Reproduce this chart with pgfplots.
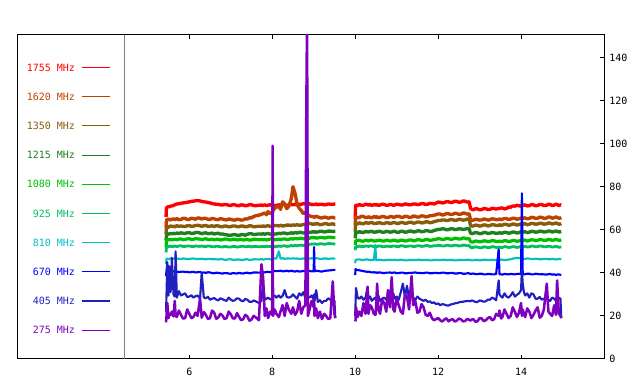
\documentclass[border=0pt]{standalone}
\usepackage{fontspec}
\setmainfont{DejaVu Sans Mono}
\usepackage{pgfplots}
\usepackage{pgfplotstable}
\pgfplotsset{compat=1.18}
\definecolor{cA}{RGB}{255,0,0}
\definecolor{cB}{RGB}{192,64,0}
\definecolor{cC}{RGB}{136,92,8}
\definecolor{cD}{RGB}{32,128,32}
\definecolor{cE}{RGB}{0,192,0}
\definecolor{cF}{RGB}{0,192,96}
\definecolor{cG}{RGB}{0,192,192}
\definecolor{cH}{RGB}{0,0,255}
\definecolor{cI}{RGB}{32,32,192}
\definecolor{cJ}{RGB}{128,0,192}
\pgfplotstableread{
t a b c d e f g h i j
5.44 66.0 61.0 58.0 55.0 52.0 49.5 44.0 38.5 22.0 17.0
5.45 70.2 64.5 61.0 57.5 55.0 52.0 46.5 41.0 29.0 19.5
5.47 70.5 64.8 61.3 57.8 55.2 52.3 46.6 44.0 45.0 26.0
5.50 70.8 65.0 61.2 58.0 55.4 52.1 46.4 40.8 29.5 19.0
5.52 70.6 64.7 61.5 58.2 55.3 52.3 46.5 40.7 43.0 21.0
5.55 71.0 64.6 61.8 58.3 55.6 52.4 46.7 40.6 31.0 20.5
5.58 71.1 64.9 61.5 58.1 55.3 52.2 46.5 40.9 47.0 22.0
5.62 71.3 65.1 61.7 58.4 55.5 52.3 46.6 40.7 30.0 19.8
5.65 71.6 64.7 61.4 58.2 55.7 52.5 46.8 40.5 29.0 27.0
5.67 71.8 64.9 61.6 58.3 55.5 52.4 46.6 40.7 50.0 20.0
5.70 72.0 65.2 61.9 58.5 55.4 52.2 46.5 40.6 28.5 19.5
5.75 72.1 64.7 61.6 58.3 55.7 52.5 46.6 40.4 31.5 22.5
5.80 72.3 64.8 61.8 58.6 55.8 52.6 46.4 40.5 29.5 20.5
5.85 72.5 65.4 61.6 58.4 55.4 52.3 46.7 40.6 30.0 18.8
5.90 72.6 65.3 61.5 58.3 55.5 52.3 46.6 40.4 30.5 19.0
5.95 72.8 64.8 61.9 58.6 55.8 52.5 46.4 40.5 28.8 23.0
6.00 73.0 64.9 62.0 58.7 55.9 52.5 46.5 40.2 29.0 21.0
6.05 73.2 65.4 61.6 58.3 55.5 52.3 46.6 40.4 29.6 19.0
6.10 73.3 65.2 61.7 58.4 55.6 52.2 46.7 40.5 28.5 19.5
6.15 73.5 64.9 62.0 58.7 55.9 52.5 46.5 40.2 29.2 21.5
6.20 73.6 65.5 62.1 58.8 55.8 52.4 46.4 40.3 29.5 20.0
6.26 73.4 65.4 61.9 58.5 55.7 52.3 46.5 40.4 28.0 28.0
6.30 73.2 65.0 61.6 58.2 55.4 52.5 46.6 40.1 40.0 19.2
6.35 73.0 65.4 61.9 58.5 55.7 52.3 46.4 40.2 28.6 21.8
6.40 72.9 65.3 62.0 58.6 55.9 52.2 46.3 40.0 28.2 20.5
6.45 72.7 64.9 61.6 58.2 55.5 52.5 46.5 40.3 28.9 18.6
6.50 72.5 64.8 61.7 58.3 55.5 52.4 46.5 40.2 27.5 19.0
6.55 72.2 65.3 61.9 58.5 55.7 52.2 46.3 39.9 28.0 22.5
6.60 72.0 65.1 61.5 58.0 55.3 52.1 46.4 39.8 28.3 21.5
6.65 71.9 64.8 61.9 58.3 55.6 52.4 46.3 40.1 27.6 18.7
6.70 71.8 64.7 61.8 58.4 55.6 52.3 46.2 40.0 27.2 19.3
6.75 71.6 65.2 61.5 58.0 55.3 52.1 46.4 39.8 28.2 21.0
6.80 71.5 65.0 61.4 58.1 55.4 52.0 46.3 39.7 27.8 20.2
6.85 71.8 64.7 61.8 57.8 55.7 52.3 46.1 39.9 27.3 18.6
6.90 71.7 64.6 61.7 57.7 55.7 52.2 46.1 39.9 27.0 19.0
6.95 71.4 65.0 61.4 57.5 55.4 52.0 46.3 39.7 28.5 22.0
7.00 71.3 64.9 61.5 57.5 55.3 52.0 46.3 39.6 27.6 20.8
7.05 71.7 64.6 61.8 57.7 55.6 52.3 46.1 39.9 27.0 18.9
7.10 71.6 64.5 61.8 57.8 55.6 52.3 46.0 39.8 27.3 18.8
7.15 71.3 64.9 61.5 57.5 55.3 52.0 46.2 39.7 28.2 21.3
7.20 71.2 64.8 61.4 57.4 55.4 52.1 46.2 40.0 28.0 19.6
7.25 71.6 64.5 61.8 57.8 55.6 52.3 46.0 39.8 27.1 18.0
7.30 71.5 64.6 61.7 57.7 55.2 52.4 46.0 39.7 26.8 18.5
7.35 71.2 65.1 61.4 57.5 55.5 52.1 46.3 40.0 27.9 20.5
7.40 71.3 65.0 61.5 57.9 55.5 52.2 46.3 40.1 27.5 19.8
7.45 71.7 65.6 61.9 58.2 55.2 52.4 46.0 39.8 26.6 17.8
7.50 71.6 65.5 61.8 58.2 55.3 52.0 46.1 39.9 26.5 18.3
7.55 71.3 66.2 61.4 57.8 55.6 52.3 46.3 40.2 27.2 20.0
7.60 71.2 66.5 61.5 57.9 55.6 52.3 46.3 40.2 26.8 19.4
7.68 71.4 66.8 61.7 58.1 55.4 52.1 46.2 40.1 26.0 18.0
7.74 71.5 67.2 61.6 58.0 55.5 52.2 46.4 40.3 27.0 44.0
7.78 71.3 67.5 61.8 58.2 55.3 52.3 46.2 40.4 35.0 38.0
7.82 71.6 67.8 61.5 57.9 55.6 52.1 46.3 40.2 27.5 20.0
7.86 71.3 67.0 61.8 58.2 55.3 52.4 46.5 40.4 28.0 23.5
7.90 71.4 68.5 61.9 58.3 55.4 52.3 46.5 40.5 28.5 19.0
7.95 71.7 67.5 61.6 58.0 55.7 52.2 46.3 40.3 27.7 22.0
8.00 71.2 68.0 61.6 58.0 55.7 52.2 46.3 40.6 28.0 20.5
8.01 71.4 68.3 61.8 58.2 55.5 52.3 46.4 40.5 28.5 99.0
8.02 71.5 69.0 61.7 58.3 55.6 52.4 46.5 40.7 29.0 20.0
8.06 71.2 70.0 62.0 58.0 55.4 52.2 46.7 40.9 29.5 23.0
8.10 71.3 70.5 62.0 58.1 55.4 52.2 46.7 40.8 28.5 21.0
8.16 71.6 71.0 61.8 58.4 55.7 52.5 50.0 40.9 29.5 19.5
8.20 71.4 69.5 62.1 58.2 55.5 52.3 46.6 41.0 28.5 22.0
8.25 71.8 73.0 61.8 58.5 55.7 52.5 46.8 40.7 29.3 25.0
8.30 71.7 72.0 61.9 58.5 55.8 52.6 46.5 40.8 32.0 20.0
8.35 71.4 69.8 62.2 58.2 55.5 52.3 46.7 41.0 28.8 26.0
8.40 71.5 71.0 62.2 58.3 55.6 52.4 46.7 40.7 28.5 23.0
8.46 71.8 74.5 62.0 58.6 55.9 52.7 46.6 41.0 29.0 21.0
8.50 71.6 80.0 62.3 58.4 55.7 52.5 46.8 40.8 30.0 24.0
8.55 71.9 77.0 62.1 58.7 56.0 52.8 46.6 40.6 29.0 20.5
8.60 71.5 72.0 62.4 58.5 55.8 52.6 46.7 40.9 28.0 22.0
8.65 71.9 70.0 62.1 58.8 56.0 52.8 46.5 40.6 30.5 27.0
8.70 71.8 69.0 62.2 58.8 56.1 52.9 46.5 40.7 29.5 21.0
8.75 72.2 67.5 62.5 58.5 55.8 52.7 46.7 40.9 31.0 24.0
8.80 72.0 68.0 62.6 58.6 55.9 53.0 46.8 40.8 28.5 25.0
8.82 72.2 67.5 62.8 58.9 56.2 53.2 46.7 41.0 35.0 110.0
8.84 72.1 67.2 62.7 58.7 56.0 53.1 46.6 40.9 30.0 160.0
8.86 71.9 67.0 62.9 59.0 56.3 53.3 46.8 41.1 29.0 20.0
8.90 72.1 66.5 63.0 58.8 56.1 53.2 46.6 40.9 28.5 23.0
8.95 71.7 66.2 62.7 59.0 56.4 53.4 46.8 40.7 29.5 27.0
9.00 71.8 66.0 62.6 59.1 56.4 53.4 46.7 40.8 27.5 24.0
9.01 71.9 66.2 62.8 58.9 56.2 53.3 46.8 52.0 30.0 28.0
9.02 71.7 65.8 62.5 59.2 56.5 53.5 46.6 40.7 27.0 20.0
9.06 72.0 66.3 62.9 58.9 56.2 53.3 46.8 41.0 32.0 23.5
9.10 71.6 66.0 62.8 59.0 56.2 53.3 46.7 40.9 26.5 19.0
9.15 71.9 65.6 62.4 59.3 56.5 53.5 46.5 40.7 27.3 22.0
9.20 71.9 65.5 62.5 59.3 56.5 53.5 46.5 40.6 26.0 18.5
9.25 71.6 65.9 62.8 59.0 56.2 53.3 46.7 40.9 27.0 21.0
9.30 71.7 65.8 62.9 59.1 56.3 53.4 46.7 41.0 27.0 20.0
9.35 72.0 65.4 62.5 59.4 56.6 53.6 46.5 41.1 28.2 18.6
9.40 71.9 65.6 62.6 59.4 56.6 53.6 46.6 41.2 27.5 19.0
9.46 71.8 65.9 62.8 59.2 56.4 53.5 46.7 41.3 28.0 36.0
9.50 72.0 65.5 62.5 59.3 56.5 53.4 46.6 41.4 27.0 21.0
9.52 72.0 65.5 62.5 59.3 56.5 53.4 46.6 41.4 19.0 19.0
9.70 nan nan nan nan nan nan nan nan nan nan
10.00 65.0 62.0 59.0 56.0 53.0 50.5 44.5 39.0 20.0 17.5
10.01 71.0 65.5 62.5 58.5 54.5 52.0 46.0 41.8 26.0 18.0
10.02 71.5 66.0 63.0 59.0 54.9 52.3 46.1 41.5 33.0 24.0
10.06 71.2 65.6 62.7 58.7 55.2 52.1 46.2 41.3 28.5 19.5
10.10 71.8 65.7 63.3 59.2 55.1 52.5 46.3 41.2 28.0 22.0
10.15 71.4 66.3 62.9 58.8 54.8 52.2 46.0 41.0 29.0 20.0
10.20 71.4 66.2 62.8 58.8 54.7 52.2 46.0 40.8 27.5 26.0
10.25 71.9 65.7 63.3 59.2 55.2 52.5 46.2 40.6 28.5 21.0
10.30 71.7 65.8 63.2 59.1 55.0 52.4 46.2 40.5 33.5 33.5
10.32 71.5 66.1 63.0 58.9 54.8 52.3 46.1 40.6 28.0 21.0
10.36 71.8 65.7 63.3 59.2 55.1 52.5 46.0 40.4 29.0 25.0
10.40 71.3 65.6 63.4 59.3 55.2 52.5 45.9 40.2 27.0 24.0
10.45 71.7 66.1 63.0 58.9 54.8 52.2 46.1 40.3 28.0 21.0
10.49 71.6 66.0 62.9 58.9 54.8 52.2 53.0 40.1 28.5 20.5
10.50 71.4 65.7 63.2 59.2 55.1 52.4 46.0 40.3 27.5 22.5
10.53 71.7 66.2 63.0 59.0 54.9 52.2 45.9 40.0 28.0 35.0
10.56 71.4 65.6 63.3 59.3 55.2 52.5 46.1 40.2 29.5 23.0
10.60 71.5 65.8 63.3 59.3 55.2 52.5 46.1 40.2 27.0 21.0
10.65 71.9 66.2 62.9 58.9 54.8 52.2 45.9 40.0 28.0 27.5
10.70 71.8 66.1 62.9 58.9 54.8 52.1 45.8 39.9 28.5 26.0
10.75 71.4 65.7 63.3 59.3 55.2 52.4 46.0 40.1 27.5 22.0
10.79 71.4 65.7 63.3 59.2 55.1 52.4 46.0 40.1 30.0 32.0
10.84 71.8 66.1 62.9 58.9 54.8 52.2 46.1 40.2 28.0 24.0
10.88 71.7 66.2 63.1 59.0 54.9 52.3 45.9 40.0 27.5 38.0
10.92 71.4 65.8 63.4 59.3 55.2 52.5 46.0 40.1 30.5 23.0
10.95 71.5 65.9 63.4 59.3 55.2 52.5 46.1 40.2 28.0 22.0
11.00 71.9 66.3 63.0 58.9 54.8 52.2 45.9 39.9 29.0 28.0
11.05 71.8 66.3 63.0 58.9 54.8 52.2 45.9 39.9 27.5 25.0
11.10 71.5 65.9 63.4 59.3 55.2 52.6 46.1 40.1 31.0 22.0
11.15 71.6 65.8 63.4 59.3 55.2 52.6 46.0 40.1 35.0 21.0
11.20 72.0 66.3 63.0 58.9 54.8 52.2 45.8 39.8 29.0 30.0
11.25 71.9 66.2 63.1 59.0 54.9 52.3 45.8 39.8 34.0 29.0
11.30 71.6 65.8 63.5 59.4 55.3 52.5 46.0 40.0 28.0 23.0
11.36 71.7 65.9 63.5 59.4 55.3 52.5 46.0 40.0 29.0 38.5
11.40 72.0 66.4 63.1 59.0 54.9 52.2 45.9 40.1 28.5 25.0
11.45 72.0 66.3 63.2 59.1 55.0 52.3 45.9 40.2 27.5 27.0
11.50 71.7 65.9 63.6 59.5 55.4 52.6 46.1 40.0 29.0 21.5
11.55 71.8 66.0 63.6 59.5 55.4 52.6 46.1 40.0 28.0 22.0
11.60 72.2 66.5 63.2 59.1 55.0 52.3 45.9 39.9 27.5 25.5
11.65 72.1 66.4 63.3 59.2 55.1 52.4 45.9 39.9 27.0 24.0
11.70 71.8 66.0 63.7 59.6 55.5 52.7 46.0 40.1 27.5 20.5
11.75 71.9 66.1 63.7 59.6 55.5 52.7 46.0 40.1 26.5 20.0
11.80 72.3 66.6 63.3 59.2 55.1 52.3 45.8 39.8 26.8 21.5
11.85 72.2 66.5 63.4 59.3 55.2 52.4 45.8 39.8 26.0 19.0
11.90 72.0 66.8 63.8 59.7 55.5 52.6 46.0 40.0 26.3 18.0
11.95 72.4 67.0 64.0 59.9 55.6 52.6 46.0 40.0 25.5 18.5
12.00 72.9 67.4 64.3 60.2 55.9 52.8 45.9 39.9 25.8 19.0
12.05 72.8 67.3 64.3 60.2 55.8 52.7 45.9 39.9 25.0 18.0
12.10 72.5 66.9 64.6 60.5 55.5 52.5 46.1 40.1 25.5 17.4
12.15 72.6 67.0 64.6 60.4 55.6 52.5 46.1 40.1 25.3 18.3
12.20 73.1 67.6 64.3 60.0 56.0 52.8 45.9 39.8 24.9 18.9
12.25 73.0 67.5 64.4 60.1 55.9 52.8 45.9 39.8 24.8 17.5
12.30 72.7 67.1 64.8 60.5 55.6 52.5 46.0 40.0 25.3 18.2
12.35 72.8 67.2 64.7 60.5 55.7 52.6 46.0 40.0 25.5 18.5
12.40 73.3 67.7 64.4 60.1 56.1 52.9 45.8 39.7 25.8 17.4
12.45 73.2 67.6 64.5 60.2 56.0 52.8 45.8 39.7 26.0 17.8
12.50 72.8 67.2 64.9 60.5 55.7 52.5 46.0 39.9 26.3 18.8
12.55 72.9 67.3 64.8 60.4 55.8 52.6 46.0 39.9 26.5 18.4
12.60 73.4 67.8 64.5 60.2 56.2 52.9 45.9 39.6 26.6 17.5
12.65 73.3 67.7 64.6 60.3 56.1 52.9 45.9 39.6 26.8 17.6
12.70 72.9 67.3 65.0 60.6 55.8 52.6 46.1 39.8 26.9 18.6
12.75 73.0 67.4 64.9 60.5 55.9 52.7 46.1 39.8 27.0 18.2
12.78 70.0 64.8 62.0 58.5 54.6 51.9 45.9 39.5 26.8 17.8
12.81 69.6 64.4 61.7 58.2 54.3 51.7 45.8 39.6 27.2 18.3
12.85 69.3 64.5 61.8 58.4 54.4 51.8 45.8 39.7 27.0 18.5
12.90 69.8 64.9 62.2 58.7 54.8 52.1 46.0 39.4 26.5 17.3
12.95 69.7 64.8 62.1 58.6 54.7 52.0 46.0 39.4 26.5 17.5
13.00 69.3 64.5 61.7 58.2 54.4 51.7 45.8 39.6 27.2 19.0
13.05 69.4 64.6 61.9 58.3 54.5 51.7 45.9 39.6 27.0 18.8
13.10 69.9 65.0 62.3 58.8 54.9 52.1 46.1 39.3 26.6 17.6
13.15 69.8 64.9 62.2 58.7 54.8 52.0 46.1 39.3 26.8 18.0
13.20 69.4 64.5 61.8 58.3 54.5 51.7 45.9 39.5 27.6 19.0
13.25 69.5 64.7 62.0 58.4 54.6 51.8 45.9 39.5 27.5 19.5
13.30 70.0 65.1 62.4 58.8 55.0 52.2 46.1 39.3 28.5 18.0
13.35 69.9 65.0 62.3 58.6 54.9 52.1 46.0 39.3 28.0 18.5
13.40 69.6 64.7 62.0 58.3 54.6 51.8 45.9 39.5 27.3 21.0
13.46 70.0 64.8 62.1 58.5 54.6 51.9 46.2 51.0 36.5 20.0
13.48 69.8 65.1 62.4 58.7 54.8 52.0 46.0 39.4 30.0 22.5
13.52 70.2 64.7 62.0 58.4 54.5 51.7 46.2 39.3 29.0 18.8
13.55 70.1 64.9 62.2 58.5 54.6 51.8 46.1 39.2 28.5 19.5
13.60 69.7 65.3 62.6 58.9 55.0 52.2 45.9 39.5 30.5 23.0
13.65 69.9 65.2 62.5 58.8 54.9 52.1 46.0 39.4 29.0 21.0
13.70 70.6 64.8 62.1 58.4 54.5 51.8 46.2 39.3 28.5 19.0
13.75 70.5 65.0 62.3 58.6 54.7 51.9 46.3 39.5 29.5 20.0
13.80 71.1 65.4 62.7 59.0 55.1 52.2 46.6 39.4 31.0 24.0
13.85 71.0 65.3 62.6 58.9 55.0 52.1 46.8 39.3 29.0 22.0
13.90 71.4 64.9 62.2 58.5 54.7 51.8 47.0 39.5 29.8 19.5
13.95 71.2 65.1 62.4 58.7 54.8 52.0 46.9 39.6 30.5 21.5
14.00 71.0 65.5 62.8 59.1 55.2 52.3 46.7 39.4 32.0 26.0
14.02 71.4 65.4 62.7 59.0 55.1 52.2 46.6 77.0 41.5 20.0
14.04 71.1 65.2 62.5 58.8 54.9 52.0 46.7 39.5 35.0 23.0
14.07 71.6 65.6 62.9 59.2 55.3 52.4 46.5 39.3 31.0 21.0
14.10 71.5 65.5 62.8 59.1 55.2 52.3 46.5 39.4 29.5 19.5
14.15 71.1 65.1 62.4 58.7 54.8 52.0 46.7 39.6 30.5 23.5
14.20 71.2 65.3 62.6 58.9 55.0 52.1 46.6 39.6 28.5 22.0
14.25 71.7 65.8 63.0 59.3 55.4 52.5 46.4 39.3 30.5 19.0
14.30 71.6 65.7 62.9 59.2 55.3 52.4 46.4 39.3 30.0 20.5
14.35 71.2 65.3 62.6 58.9 55.0 52.1 46.6 39.6 28.0 22.5
14.40 71.3 65.4 62.7 59.0 55.1 52.2 46.5 39.5 28.0 24.0
14.45 71.8 65.9 63.1 59.4 55.5 52.5 46.3 39.3 28.8 19.2
14.50 71.7 65.8 63.0 59.3 55.4 52.4 46.3 39.4 27.5 20.0
14.55 71.3 65.3 62.6 59.0 55.1 52.1 46.5 39.3 28.0 23.0
14.62 71.4 65.5 62.8 59.1 55.2 52.2 46.5 39.2 28.5 35.0
14.66 71.9 66.0 63.2 59.5 55.6 52.4 46.3 39.4 27.5 22.0
14.70 71.8 65.9 63.1 59.4 55.5 52.3 46.3 39.5 27.0 21.0
14.75 71.3 65.4 62.7 59.0 55.1 52.0 46.5 39.2 28.5 20.0
14.80 71.5 65.6 62.9 59.2 55.3 52.1 46.4 39.3 28.0 25.0
14.84 71.9 66.0 63.2 59.5 55.6 52.4 46.2 39.1 27.0 20.5
14.87 71.7 65.8 63.0 59.3 55.4 52.2 46.3 39.2 27.5 36.5
14.91 71.3 65.4 62.6 59.0 55.1 51.9 46.5 39.3 28.5 21.0
14.95 71.6 65.5 62.7 59.1 55.2 52.0 46.4 39.1 28.0 20.0
14.97 71.5 65.7 62.9 59.2 55.3 52.1 46.3 39.0 19.0 19.0
}\data
\begin{document}
\begin{tikzpicture}[font=\fontsize{7.5pt}{9pt}\selectfont]
\begin{axis}[
  scale only axis,
  width=439.5pt, height=243pt,
  xmin=1.87, xmax=16, ymin=0, ymax=150.5,
  axis line style={line width=0.75pt},
  xtick={6,8,10,12,14},
  ytick={0,20,40,60,80,100,120,140},
  xtick pos=both, ytick pos=right,
  yticklabel pos=right,
  tick align=inside,
  major tick length=3pt,
  tick style={black, line width=0.75pt},
  /pgf/number format/assume math mode=true,
  xticklabel style={anchor=center, yshift=-9.75pt, font=\fontsize{7.5pt}{9pt}\selectfont},
  yticklabel style={anchor=west, inner sep=0pt, xshift=3.75pt, font=\fontsize{7.5pt}{9pt}\selectfont},
  unbounded coords=jump,
  every axis plot/.append style={line width=0.75pt, mark=none, line join=round},
]
\addplot[gray, line width=0.75pt] coordinates {(4.43,0) (4.43,150.5)};
\addplot[draw=cA, line width=2.5pt] table[x=t,y=a] {\data};
\addplot[draw=cB, line width=2.5pt] table[x=t,y=b] {\data};
\addplot[draw=cC, line width=2.5pt] table[x=t,y=c] {\data};
\addplot[draw=cD, line width=2.5pt] table[x=t,y=d] {\data};
\addplot[draw=cE, line width=2.4pt] table[x=t,y=e] {\data};
\addplot[draw=cF, line width=2.1pt] table[x=t,y=f] {\data};
\addplot[draw=cG, line width=1.6pt] table[x=t,y=g] {\data};
\addplot[draw=cH, line width=1.6pt] table[x=t,y=h] {\data};
\addplot[draw=cI, line width=1.6pt] table[x=t,y=i] {\data};
\addplot[draw=cJ, line width=1.9pt] table[x=t,y=j] {\data};
% legend samples
\addplot[draw=cA, line width=0.9pt] coordinates {(3.41,135.4) (4.09,135.4)};
\addplot[draw=cB, line width=0.9pt] coordinates {(3.41,121.8) (4.09,121.8)};
\addplot[draw=cC, line width=0.9pt] coordinates {(3.41,108.3) (4.09,108.3)};
\addplot[draw=cD, line width=0.9pt] coordinates {(3.41,94.7) (4.09,94.7)};
\addplot[draw=cE, line width=0.9pt] coordinates {(3.41,81.2) (4.09,81.2)};
\addplot[draw=cF, line width=0.9pt] coordinates {(3.41,67.6) (4.09,67.6)};
\addplot[draw=cG, line width=0.9pt] coordinates {(3.41,54.0) (4.09,54.0)};
\addplot[draw=cH, line width=0.9pt] coordinates {(3.41,40.5) (4.09,40.5)};
\addplot[draw=cI, line width=0.9pt] coordinates {(3.41,26.9) (4.09,26.9)};
\addplot[draw=cJ, line width=0.9pt] coordinates {(3.41,13.4) (4.09,13.4)};
\node[anchor=east, inner sep=0pt, text=cA] at (axis cs:3.25,135.4) {1755 MHz};
\node[anchor=east, inner sep=0pt, text=cB] at (axis cs:3.25,121.8) {1620 MHz};
\node[anchor=east, inner sep=0pt, text=cC] at (axis cs:3.25,108.3) {1350 MHz};
\node[anchor=east, inner sep=0pt, text=cD] at (axis cs:3.25,94.7) {1215 MHz};
\node[anchor=east, inner sep=0pt, text=cE] at (axis cs:3.25,81.2) {1080 MHz};
\node[anchor=east, inner sep=0pt, text=cF] at (axis cs:3.25,67.6) {925 MHz};
\node[anchor=east, inner sep=0pt, text=cG] at (axis cs:3.25,54.0) {810 MHz};
\node[anchor=east, inner sep=0pt, text=cH] at (axis cs:3.25,40.5) {670 MHz};
\node[anchor=east, inner sep=0pt, text=cI] at (axis cs:3.25,26.9) {405 MHz};
\node[anchor=east, inner sep=0pt, text=cJ] at (axis cs:3.25,13.4) {275 MHz};
\node[anchor=center, yshift=-8.5pt] at (axis cs:4.43,0) {UT};
\node[anchor=center, yshift=13.1pt] at (rel axis cs:0.5,1) {12 04 2003};
\coordinate (SW) at (rel axis cs:0,0);
\end{axis}
\path (SW) ++(-13.5pt,-18.75pt) rectangle ++(480pt,288pt);
\end{tikzpicture}
\end{document}
